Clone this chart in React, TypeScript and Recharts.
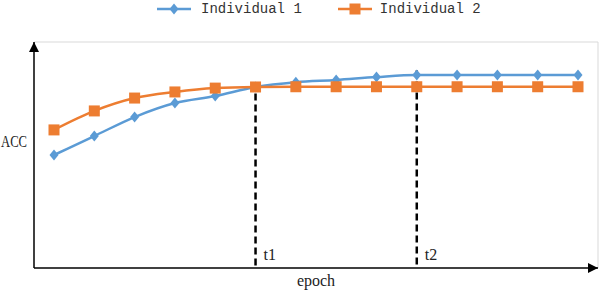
import React from 'react';
import { LineChart, Line, XAxis, YAxis, Legend, ReferenceLine, CartesianGrid } from 'recharts';

const epochs = [1, 2, 3, 4, 5, 6, 7, 8, 9, 10, 11, 12, 13, 14];
const individual1 = [50.0, 58.4, 66.8, 73.0, 76.1, 80.1, 82.2, 83.2, 84.5, 85.4, 85.4, 85.4, 85.4, 85.4];
const individual2 = [61.1, 69.5, 75.2, 77.9, 79.6, 80.1, 80.2, 80.2, 80.2, 80.2, 80.2, 80.2, 80.2, 80.2];
const seriesNames = ['Individual 1', 'Individual 2'];
const stageEpochs = [6, 10];
const stageLabels = ['t1', 't2'];

const BLUE = '#5B9BD5';
const ORANGE = '#ED7D31';

const data = epochs.map((epoch, i) => ({
  epoch,
  ind1: individual1[i],
  ind2: individual2[i],
}));

const Diamond = (props: any) => {
  const { cx, cy, key } = props;
  if (cx == null || cy == null) return null;
  return <polygon key={key} points={`${cx},${cy - 5.5} ${cx + 4.5},${cy} ${cx},${cy + 5.5} ${cx - 4.5},${cy}`} fill={BLUE} />;
};

const Square = (props: any) => {
  const { cx, cy, key } = props;
  if (cx == null || cy == null) return null;
  return <rect key={key} x={cx - 5.5} y={cy - 5.5} width={11} height={11} fill={ORANGE} />;
};

const legendText: React.CSSProperties = {
  fontFamily: '"Liberation Mono", monospace',
  fontSize: 14,
  color: '#333',
};

const renderLegend = () => (
  <div style={{ display: 'flex', alignItems: 'center', paddingLeft: 157, height: 18 }}>
    <svg width={34} height={12}>
      <line x1={0} y1={6} x2={34} y2={6} stroke={BLUE} strokeWidth={2.5} />
      <polygon points="17,0.5 21.5,6 17,11.5 12.5,6" fill={BLUE} />
    </svg>
    <span style={{ ...legendText, marginLeft: 10 }}>{seriesNames[0]}</span>
    <svg width={34} height={12} style={{ marginLeft: 36 }}>
      <line x1={0} y1={6} x2={34} y2={6} stroke={ORANGE} strokeWidth={2.5} />
      <rect x={11.5} y={0.5} width={11} height={11} fill={ORANGE} />
    </svg>
    <span style={{ ...legendText, marginLeft: 8 }}>{seriesNames[1]}</span>
  </div>
);

const serif = '"Liberation Serif", serif';

// narrow axis title, like the half-width glyphs of the original
const AccLabel = (props: any) => {
  const { viewBox } = props;
  if (!viewBox) return null;
  return (
    <text x={1} y={viewBox.y + viewBox.height / 2 - 14} dy="0.35em" fontSize={16} fontFamily={serif}
      fill="#222" textLength={26} lengthAdjust="spacingAndGlyphs">
      ACC
    </text>
  );
};

export default function App() {
  const stageTop = (epoch: number) => Math.max(individual1[epoch - 1], individual2[epoch - 1]) + 2;

  return (
    <div style={{ position: 'absolute', left: 0, top: 0 }}>
      <svg width={0} height={0} style={{ position: 'absolute' }}>
        <defs>
          <marker id="arrowHead" viewBox="0 0 10 10" refX={10} refY={5} markerWidth={10} markerHeight={10}
            markerUnits="userSpaceOnUse" orient="auto-start-reverse">
            <path d="M0,0 L10,5 L0,10 z" fill="#000" />
          </marker>
        </defs>
      </svg>
      <LineChart width={600} height={290} data={data} margin={{ top: 24, right: 2, bottom: 0, left: 0 }}>
        <CartesianGrid
          stroke="#d9d9d9"
          horizontalCoordinatesGenerator={({ offset }: any) => [offset.top]}
          verticalCoordinatesGenerator={({ offset }: any) => [offset.left + offset.width]}
        />
        <XAxis
          dataKey="epoch"
          type="category"
          padding={{ left: 20, right: 20 }}
          tick={false}
          tickLine={false}
          height={22}
          axisLine={{ stroke: '#000', strokeWidth: 1.5, markerEnd: 'url(#arrowHead)' }}
          label={{ value: 'epoch', position: 'insideBottom', offset: 4, fill: '#222', fontSize: 16, fontFamily: serif }}
        />
        <YAxis
          domain={[0, 100]}
          tick={false}
          tickLine={false}
          width={34}
          axisLine={{ stroke: '#000', strokeWidth: 1.5, markerStart: 'url(#arrowHead)' }}
          label={<AccLabel />}
        />
        <Legend verticalAlign="top" wrapperStyle={{ top: 0, left: 0, width: 600 }} content={renderLegend} />
        <Line
          type="monotone"
          dataKey="ind1"
          name={seriesNames[0]}
          stroke={BLUE}
          strokeWidth={2.5}
          dot={Diamond}
          activeDot={false}
          isAnimationActive={false}
        />
        <Line
          type="monotone"
          dataKey="ind2"
          name={seriesNames[1]}
          stroke={ORANGE}
          strokeWidth={2.5}
          dot={Square}
          activeDot={false}
          isAnimationActive={false}
        />
        {stageEpochs.map((epoch) => (
          <ReferenceLine
            key={`seg-${epoch}`}
            segment={[{ x: epoch, y: stageTop(epoch) }, { x: epoch, y: 0 }]}
            stroke="#000"
            strokeWidth={2.5}
            strokeDasharray="7 4"
          />
        ))}
        {stageEpochs.map((epoch, i) => (
          <ReferenceLine
            key={`lbl-${epoch}`}
            x={epoch}
            stroke="none"
            label={{ value: stageLabels[i], position: 'insideBottomLeft', offset: 8, fill: '#222', fontSize: 16, fontFamily: serif }}
          />
        ))}
      </LineChart>
    </div>
  );
}
